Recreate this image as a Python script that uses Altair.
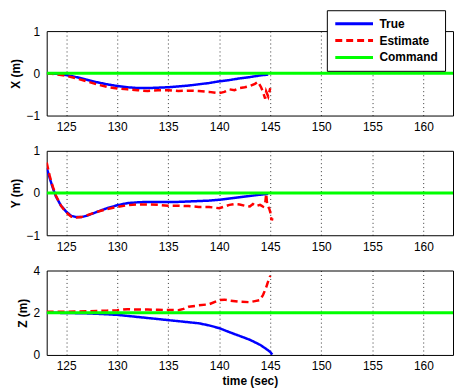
import altair as alt
import pandas as pd

# ---------------- data ----------------
T_MIN, T_MAX = 123.1, 162.9
time_ticks = [125, 130, 135, 140, 145, 150, 155, 160]
series_names = ["True", "Estimate", "Command"]
series_colors = ["#0000ff", "#ff0000", "#00ff00"]
series_dash = [[1, 0], [7, 4], [1, 0]]

t_cmd = [T_MIN, T_MAX]

# X panel
t_x_true = [123.1, 124, 125, 126, 127, 128, 129, 130, 131, 132, 133, 134, 135, 136,
            137, 138, 139, 140, 141, 142, 143, 144, 144.8]
x_true = [0.0, -0.01, -0.04, -0.09, -0.15, -0.21, -0.26, -0.30, -0.33, -0.35, -0.35,
          -0.34, -0.33, -0.31, -0.29, -0.26, -0.23, -0.19, -0.16, -0.12, -0.09, -0.05, -0.03]
t_x_est = [123.1, 124, 125, 126, 127, 128, 129, 130, 131, 132, 133, 134, 135, 136, 137,
           138, 139, 140, 140.5, 141, 141.5, 142, 142.5, 143, 143.5, 143.8, 144.1, 144.3,
           144.5, 144.6, 144.8, 145]
x_est = [0.0, -0.02, -0.06, -0.12, -0.19, -0.26, -0.32, -0.36, -0.38, -0.40, -0.42, -0.40,
         -0.40, -0.42, -0.41, -0.42, -0.44, -0.47, -0.44, -0.38, -0.40, -0.35, -0.33, -0.30,
         -0.25, -0.20, -0.33, -0.45, -0.60, -0.43, -0.55, -0.35]
x_cmd = [0, 0]

# Y panel
t_y_true = [123.1, 123.4, 123.7, 124, 124.5, 125, 125.5, 126, 126.5, 127, 128, 129, 130,
            131, 132, 133, 134, 135, 136, 137, 138, 139, 140, 141, 142, 143, 144, 144.8]
y_true = [0.60, 0.35, 0.12, -0.08, -0.30, -0.44, -0.54, -0.57, -0.57, -0.54, -0.45, -0.36,
          -0.29, -0.24, -0.22, -0.21, -0.21, -0.21, -0.21, -0.20, -0.19, -0.18, -0.16, -0.13,
          -0.10, -0.07, -0.04, -0.02]
t_y_est = [123.1, 123.4, 123.7, 124, 124.5, 125, 125.5, 126, 126.5, 127, 128, 129, 130, 131,
           132, 133, 134, 135, 136, 137, 138, 139, 140, 141, 141.5, 142, 142.5, 143, 143.3,
           143.6, 144, 144.3, 144.5, 144.6, 144.7, 144.9, 145.0, 145.1, 145.3]
y_est = [0.72, 0.40, 0.15, -0.06, -0.30, -0.46, -0.56, -0.58, -0.57, -0.53, -0.45, -0.38,
         -0.33, -0.29, -0.27, -0.27, -0.28, -0.30, -0.30, -0.31, -0.33, -0.33, -0.36, -0.28,
         -0.26, -0.27, -0.30, -0.32, -0.26, -0.31, -0.28, -0.32, -0.25, -0.02, -0.28, -0.37,
         -0.45, -0.62, -0.63]
y_cmd = [0, 0]

# Z panel
t_z_true = [123.1, 125, 127, 128, 130, 132, 134, 136, 138, 139, 140, 141, 142, 143, 144,
            144.5, 145, 145.2]
z_true = [2.0, 1.99, 1.97, 1.95, 1.90, 1.80, 1.70, 1.60, 1.50, 1.40, 1.27, 1.08, 0.90, 0.72,
          0.48, 0.32, 0.14, 0.02]
t_z_est = [123.1, 125, 127, 128, 129, 130, 131, 132, 133, 134, 135, 136, 136.5, 137, 138,
           139, 140, 140.5, 141, 142, 143, 143.5, 144, 144.3, 144.6, 144.8, 145]
z_est = [2.05, 2.05, 2.07, 2.08, 2.10, 2.12, 2.17, 2.15, 2.15, 2.14, 2.13, 2.12, 2.18, 2.28,
         2.35, 2.40, 2.60, 2.62, 2.58, 2.52, 2.50, 2.55, 2.60, 2.85, 3.20, 3.50, 3.75]
z_cmd = [2, 2]

FONT = "Liberation Sans"


def frame(t, v, name):
    return pd.DataFrame({"t": t, "v": v, "series": name})


def panel(tt, vt, te, ve, vc, ytitle, ydomain, yticks, xtitle):
    x_axis = alt.Axis(values=time_ticks, grid=True, gridDash=[1, 3], gridColor="#000000",
                      gridOpacity=0.8, ticks=False, labelPadding=6, domain=False,
                      format=".0f", labelOverlap=False)
    x_enc = alt.X("t:Q", scale=alt.Scale(domain=[T_MIN, T_MAX], nice=False),
                  axis=x_axis, title=xtitle)
    y_enc = alt.Y("v:Q", scale=alt.Scale(domain=ydomain, nice=False, zero=False),
                  axis=alt.Axis(values=yticks, grid=False, ticks=False, labelPadding=7,
                                titlePadding=4, domain=False,
                                labelExpr="format(datum.value, '.0f')",
                                labelOverlap=False, labelFlush=False),
                  title=ytitle)
    color = alt.Color("series:N", scale=alt.Scale(domain=series_names, range=series_colors),
                      title=None,
                      legend=alt.Legend(orient="none", legendX=282, legendY=-21))
    dash = alt.StrokeDash("series:N", scale=alt.Scale(domain=series_names, range=series_dash),
                          title=None,
                          legend=alt.Legend(orient="none", legendX=282, legendY=-21))
    layers = []
    for t, v, name, w in [(tt, vt, "True", 2.5), (te, ve, "Estimate", 2.5),
                          (t_cmd, vc, "Command", 3)]:
        layers.append(
            alt.Chart(frame(t, v, name))
            .mark_line(strokeWidth=w, clip=True)
            .encode(x=x_enc, y=y_enc, color=color, strokeDash=dash)
        )
    return alt.layer(*layers).properties(width=409, height=85)


p1 = panel(t_x_true, x_true, t_x_est, x_est, x_cmd, "X (m)", [-1, 1], [-1, 0, 1], "")
p2 = panel(t_y_true, y_true, t_y_est, y_est, y_cmd, "Y (m)", [-1, 1], [-1, 0, 1], "")
p3 = panel(t_z_true, z_true, t_z_est, z_est, z_cmd, "Z (m)", [0, 4], [0, 2, 4], "time (sec)")

chart = (
    alt.vconcat(p1, p2, p3, spacing=35.5, bounds="flush")
    .resolve_scale(color="shared", strokeDash="shared")
    .resolve_legend(color="shared", strokeDash="shared")
    .properties(padding={"left": 8, "top": 8, "right": 0, "bottom": 4},
                background="white")
    .configure_view(stroke="#000000", strokeWidth=1)
    .configure_axis(labelFont=FONT, labelFontSize=12, labelColor="#000000",
                    titleFont=FONT, titleFontSize=12, titleFontWeight="bold",
                    titleColor="#000000")
    .configure_legend(symbolType="M-1,0H6.6", symbolSize=100, symbolStrokeWidth=3,
                      labelFont=FONT, labelFontSize=12, labelFontWeight="bold",
                      labelColor="#000000", labelOffset=33, rowPadding=4,
                      padding=7, strokeColor="#000000", fillColor="#ffffff",
                      cornerRadius=0)
)

chart.save("out.html", embed_options={"renderer": "svg", "actions": False})
